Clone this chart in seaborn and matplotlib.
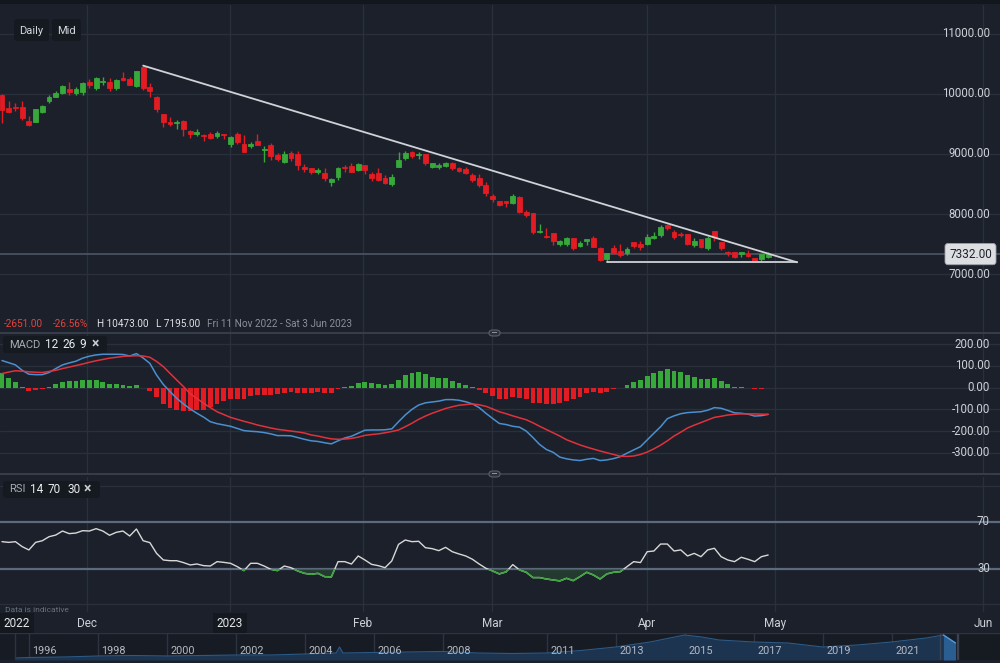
import numpy as np
import matplotlib
matplotlib.use("Agg")
import matplotlib.pyplot as plt
from matplotlib.patches import Rectangle, FancyBboxPatch
import seaborn as sns

# ---- daily candles (Nov 2022 - end Apr 2023) ----
opens = [9983, 9772, 9788, 9778, 9550, 9538, 9695, 9889, 9955, 10022,
         10078, 10022, 10039, 10195, 10105, 10195, 10205, 10094, 10272, 10245,
         10139, 10455, 10111, 9955, 9667, 9538, 9522, 9555, 9389, 9328,
         9317, 9333, 9295, 9339, 9161, 9328, 9161, 9139, 9222, 9061,
         9150, 8983, 8872, 9022, 8995, 8789, 8761, 8705, 8689, 8528,
         8622, 8789, 8800, 8733, 8817, 8667, 8678, 8605, 8500, 8789,
         8928, 9033, 8978, 9000, 8778, 8778, 8806, 8845, 8767, 8750,
         8650, 8605, 8483, 8300, 8217, 8211, 8189, 8289, 8033, 8011,
         7705, 7639, 7678, 7495, 7495, 7605, 7472, 7555, 7595, 7428,
         7245, 7428, 7389, 7345, 7528, 7495, 7495, 7605, 7650, 7817,
         7705, 7661, 7661, 7483, 7578, 7428, 7717, 7528, 7361, 7361,
         7328, 7328, 7272, 7245, 7289]
highs = [10000, 9883, 9855, 9883, 9633, 9750, 9810, 9983, 10050, 10150,
         10195, 10117, 10205, 10250, 10283, 10289, 10272, 10250, 10372, 10283,
         10383, 10473, 10178, 9970, 9667, 9622, 9567, 9567, 9400, 9417,
         9339, 9372, 9383, 9339, 9305, 9372, 9322, 9195, 9328, 9133,
         9183, 9017, 9050, 9050, 9050, 8828, 8761, 8767, 8767, 8605,
         8789, 8817, 8850, 8850, 8817, 8705, 8761, 8650, 8661, 9028,
         9050, 9050, 9039, 9000, 8856, 8856, 8867, 8867, 8778, 8789,
         8683, 8661, 8539, 8333, 8217, 8211, 8333, 8300, 8067, 8011,
         7828, 7772, 7678, 7567, 7622, 7605, 7545, 7578, 7633, 7445,
         7355, 7483, 7500, 7450, 7539, 7545, 7661, 7700, 7817, 7833,
         7733, 7705, 7661, 7600, 7578, 7628, 7717, 7528, 7389, 7372,
         7372, 7400, 7272, 7333, 7361]
lows = [9510, 9683, 9717, 9567, 9467, 9530, 9690, 9855, 9950, 10000,
        9989, 9983, 9983, 10094, 10067, 10150, 10050, 10067, 10217, 10150,
        10117, 10067, 9955, 9705, 9455, 9472, 9417, 9300, 9262, 9300,
        9217, 9245, 9272, 9245, 9111, 9161, 9039, 9095, 9150, 8861,
        8900, 8883, 8855, 8883, 8733, 8705, 8672, 8672, 8555, 8472,
        8572, 8700, 8694, 8711, 8667, 8550, 8555, 8505, 8472, 8778,
        8900, 8939, 8917, 8817, 8767, 8750, 8789, 8733, 8700, 8661,
        8539, 8450, 8300, 8200, 8133, 8122, 8172, 8022, 7950, 7667,
        7689, 7595, 7483, 7467, 7467, 7400, 7455, 7483, 7445, 7210,
        7195, 7333, 7283, 7317, 7428, 7400, 7483, 7583, 7622, 7733,
        7583, 7622, 7483, 7445, 7433, 7400, 7555, 7400, 7305, 7261,
        7283, 7289, 7200, 7217, 7261]
closes = [9733, 9705, 9762, 9605, 9483, 9750, 9800, 9955, 10017, 10128,
          10039, 10089, 10189, 10150, 10261, 10217, 10105, 10233, 10239, 10150,
          10383, 10105, 10055, 9750, 9538, 9500, 9530, 9411, 9333, 9372,
          9295, 9262, 9350, 9322, 9289, 9195, 9039, 9161, 9150, 9078,
          8972, 8911, 8995, 8928, 8817, 8744, 8694, 8733, 8595, 8583,
          8772, 8772, 8705, 8833, 8733, 8605, 8567, 8522, 8611, 8900,
          9011, 8967, 8995, 8845, 8845, 8817, 8856, 8767, 8717, 8683,
          8572, 8483, 8355, 8250, 8150, 8189, 8305, 8039, 7978, 7695,
          7722, 7622, 7555, 7550, 7595, 7439, 7511, 7578, 7445, 7233,
          7345, 7355, 7317, 7411, 7467, 7445, 7622, 7639, 7778, 7761,
          7611, 7645, 7495, 7550, 7455, 7595, 7622, 7428, 7345, 7289,
          7361, 7305, 7222, 7328, 7332]

# ---- MACD 12 26 9 ----
macd = [125, 115, 105, 80, 62, 60, 60, 70, 88, 105,
        114, 122, 136, 145, 151, 154, 154, 154, 153, 146,
        157, 137, 112, 58, 15, -18, -49, -75, -98, -118,
        -136, -157, -166, -172, -178, -188, -198, -201, -203, -207,
        -213, -221, -221, -222, -230, -238, -245, -248, -254, -259,
        -245, -232, -224, -210, -196, -195, -195, -194, -190, -157,
        -126, -100, -80, -70, -66, -62, -55, -55, -58, -65,
        -75, -92, -118, -142, -165, -170, -178, -182, -200, -230,
        -262, -285, -298, -320, -328, -333, -336, -330, -326, -336,
        -333, -327, -318, -302, -287, -272, -241, -210, -180, -143,
        -130, -120, -115, -113, -111, -104, -92, -95, -105, -116,
        -118, -122, -131, -129, -123]
signal = [65, 72, 78, 76, 73, 71, 70, 75, 80, 88,
          95, 102, 109, 117, 124, 130, 136, 140, 144, 146,
          147, 146, 140, 121, 97, 66, 35, 5, -28, -50,
          -72, -92, -111, -124, -137, -146, -155, -163, -172, -179,
          -186, -192, -196, -200, -204, -209, -218, -223, -230, -236,
          -238, -237, -234, -228, -220, -216, -213, -208, -202, -195,
          -180, -164, -146, -131, -118, -107, -96, -88, -81, -78,
          -75, -79, -86, -98, -111, -120, -130, -139, -148, -162,
          -178, -193, -208, -223, -240, -252, -264, -274, -283, -292,
          -300, -308, -316, -317, -315, -308, -297, -282, -265, -245,
          -223, -205, -186, -173, -161, -149, -137, -132, -126, -123,
          -121, -121, -121, -122, -123]
hist = [66, 43, 28, 5, -15, -11, -8, 3, 15, 28,
        31, 31, 34, 34, 35, 28, 17, 17, 12, 9,
        12, -3, -15, -45, -75, -92, -103, -108, -106, -103,
        -103, -91, -75, -60, -52, -52, -54, -37, -34, -34,
        -34, -31, -26, -22, -23, -23, -23, -22, -23, -23,
        -8, 5, 9, 20, 28, 20, 15, 12, 15, 35,
        58, 66, 71, 61, 51, 43, 43, 32, 23, 12,
        3, -11, -26, -38, -54, -54, -41, -49, -52, -69,
        -72, -75, -77, -69, -60, -52, -41, -26, -22, -26,
        -18, -8, -3, 12, 28, 35, 54, 66, 78, 86,
        78, 74, 58, 51, 40, 40, 43, 31, 15, 3,
        2, -2, -8, -5, -3]

# ---- RSI 14 ----
rsi = [53.1, 52.5, 53.1, 48.9, 46.1, 52.5, 53.9, 57.3, 58.7, 62.1,
       59.9, 60.4, 62.4, 62.1, 64.1, 62.1, 58.5, 61.0, 62.1, 57.9,
       63.8, 53.9, 52.3, 43.2, 37.6, 37.0, 37.0, 35.4, 33.4, 34.2,
       32.8, 32.5, 36.2, 35.6, 34.8, 32.0, 28.6, 34.8, 34.8, 32.5,
       29.7, 28.6, 32.5, 31.1, 28.3, 26.3, 25.5, 26.3, 23.5, 23.2,
       36.2, 36.2, 34.2, 41.0, 37.6, 33.9, 32.8, 31.1, 36.8, 50.8,
       54.5, 53.1, 53.4, 48.0, 47.2, 45.5, 48.3, 44.6, 42.7, 41.0,
       38.2, 34.2, 30.6, 28.3, 25.8, 27.5, 33.7, 29.2, 27.2, 22.7,
       22.7, 21.5, 20.7, 19.9, 22.1, 20.1, 23.5, 27.2, 24.9, 21.5,
       25.8, 27.2, 27.7, 32.0, 36.2, 35.4, 44.6, 45.2, 51.1, 51.1,
       45.2, 46.1, 41.0, 43.2, 40.4, 46.1, 47.5, 40.4, 37.6, 36.2,
       39.9, 38.2, 36.2, 40.4, 41.8]

# month labels (positions in candle units)
month_labels = ["Dec", "2023", "Feb", "Mar", "Apr", "May", "Jun"]
month_pos = [12.65, 33.9, 53.7, 72.9, 96.0, 115.0, 146.0]

price_ticks = [11000, 10000, 9000, 8000, 7000]
macd_ticks = [200, 100, 0, -100, -200, -300]

# long history navigator
nav_years = [1995.6, 1996, 1997, 1998, 1999, 2000, 2001, 2002, 2003, 2004,
             2004.9, 2005, 2005.1, 2006, 2007, 2008, 2009, 2010, 2011, 2012,
             2013, 2014, 2015, 2015.5, 2016, 2017, 2018, 2019, 2020, 2021,
             2022, 2022.5, 2022.85]
nav_level = [2, 2.5, 3, 4, 4.5, 4, 4.5, 5, 5, 6,
             7, 13, 7, 7.5, 8, 8.5, 7, 6.5, 7, 9.5,
             13, 18, 25, 23, 20, 18, 17, 13, 15, 18,
             22, 25, 17]
nav_label_years = [1996, 1998, 2000, 2002, 2004, 2006, 2008, 2011, 2013, 2015, 2017, 2019, 2021]

bg = "#1b202a"
grid_c = "#2a303b"
txt = "#cdd0d6"
up = "#37a83a"
down = "#e31b22"

sns.set_theme(style="dark", rc={"axes.facecolor": bg, "figure.facecolor": bg,
                                "axes.edgecolor": bg, "text.color": txt})
plt.rcParams["font.family"] = ["Roboto", "DejaVu Sans"]

W, H = 1000, 663
fig = plt.figure(figsize=(10, 6.63), dpi=100)


def box(top, bottom):
    return [0, 1 - bottom / H, 1, (bottom - top) / H]


def ftext(x, y, s, **kw):
    fig.text(x / W, 1 - y / H, s, **kw)


def frect(x0, y0, x1, y1, fc, ec="none", rounded=False, lw=0.8):
    if rounded:
        p = FancyBboxPatch((x0 / W, 1 - y1 / H), (x1 - x0) / W, (y1 - y0) / H,
                           boxstyle="round,pad=0,rounding_size=0.004",
                           transform=fig.transFigure, fc=fc, ec=ec, lw=lw)
    else:
        p = Rectangle((x0 / W, 1 - y1 / H), (x1 - x0) / W, (y1 - y0) / H,
                      transform=fig.transFigure, fc=fc, ec=ec, lw=lw)
    fig.patches.append(p)


ax_p = fig.add_axes(box(5, 333))
ax_m = fig.add_axes(box(333, 474))
ax_r = fig.add_axes(box(477, 612))
ax_d = fig.add_axes(box(612, 633))
ax_n = fig.add_axes(box(633, 660))

xl = (-0.298, 148.5)
idx = np.arange(len(closes))
for ax in [ax_p, ax_m, ax_r, ax_d, ax_n]:
    ax.set_facecolor(bg)
    ax.set_xticks([])
    ax.set_yticks([])
    for s in ax.spines.values():
        s.set_visible(False)
for ax in [ax_p, ax_m, ax_r, ax_d]:
    ax.set_xlim(*xl)
for ax in [ax_p, ax_m, ax_r]:
    for mp in month_pos:
        ax.axvline(mp, color=grid_c, lw=1, zorder=0)

# ---- price panel ----
ax_p.set_ylim(6017, 11483)
for t in price_ticks + [6000]:
    ax_p.axhline(t, color=grid_c, lw=1, zorder=0)
for t in price_ticks:
    ax_p.text(0.99, t, f"{t:.2f}", transform=ax_p.get_yaxis_transform(),
              ha="right", va="center", fontsize=8.3, color=txt)

o = np.array(opens); c = np.array(closes)
cols = np.where(c >= o, up, down)
ax_p.vlines(idx, lows, highs, colors=cols, lw=1, zorder=3)
ax_p.bar(idx, c - o, bottom=o, width=0.72, color=cols, edgecolor=cols, lw=0.6, zorder=4)

last = closes[-1]
ax_p.axhline(last, color="#4b5260", lw=1.3, zorder=1)
ax_p.text(0.9705, last, f"{last:.2f}", transform=ax_p.get_yaxis_transform(),
          ha="center", va="center", fontsize=8.5, color="#1e222a", zorder=6,
          bbox=dict(boxstyle="round,pad=0.35,rounding_size=0.25", fc="#dcdee2", ec="#9a9ea6", lw=0.6))

# trend lines
i_hi = int(np.argmax(highs))
i_lo = int(np.argmin(lows))
apex = 118.3
ax_p.plot([i_hi, apex], [max(highs), min(lows)], color="#cfd2d6", lw=1.3, zorder=5)
ax_p.plot([i_lo, apex], [min(lows), min(lows)], color="#cfd2d6", lw=1.3, zorder=5)

# info line
chg = closes[-1] - opens[0]
pct = chg / opens[0] * 100
ftext(4, 324, f"{chg:.2f}", fontsize=7.2, color="#e5443c", va="center")
ftext(53, 324, f"{pct:.2f}%", fontsize=7.2, color="#e5443c", va="center")
ftext(97, 324, f"H {max(highs):.2f}", fontsize=7.2, color="#dfe1e5", va="center")
ftext(156, 324, f"L {min(lows):.2f}", fontsize=7.2, color="#dfe1e5", va="center")
ftext(207, 324, "Fri 11 Nov 2022 - Sat 3 Jun 2023", fontsize=7.2, color="#8a8f99", va="center")

# ---- MACD panel ----
ax_m.set_ylim(-398, 252)
for t in macd_ticks:
    ax_m.axhline(t, color=grid_c, lw=1, zorder=0)
    ax_m.text(0.99, t, f"{t:.2f}", transform=ax_m.get_yaxis_transform(),
              ha="right", va="center", fontsize=8.3, color=txt)
hcols = [up if v >= 0 else down for v in hist]
ax_m.bar(idx, hist, width=0.72, color=hcols, edgecolor="none", lw=0, zorder=2)
sns.lineplot(x=idx, y=macd, ax=ax_m, color="#4b8fcf", lw=1.1, zorder=3)
sns.lineplot(x=idx, y=signal, ax=ax_m, color="#e0323c", lw=1.1, zorder=3)
ax_m.set_xlim(*xl)
ax_m.set_xticks([]); ax_m.set_yticks([])
ax_m.set_xlabel(""); ax_m.set_ylabel("")

# ---- RSI panel ----
ax_r.set_ylim(-6.4, 107.8)
for t in [0, 100]:
    ax_r.axhline(t, color=grid_c, lw=1, zorder=0)
for t in [70, 30]:
    ax_r.axhline(t, color="#5b6b7d", lw=1.6, zorder=1)
    ax_r.text(0.99, t, str(t), transform=ax_r.get_yaxis_transform(),
              ha="right", va="center", fontsize=8.3, color=txt)
rsi_a = np.array(rsi)
ax_r.fill_between(idx, rsi_a, 30, where=rsi_a < 30, interpolate=True,
                  color="#2b5234", alpha=0.55, lw=0, zorder=2)
sns.lineplot(x=idx, y=rsi, ax=ax_r, color="#d8d8d8", lw=1.0, zorder=3)
low_line = sns.lineplot(x=idx, y=rsi, ax=ax_r, color="#3aa53a", lw=1.1, zorder=4).lines[-1]
clip = Rectangle((xl[0], -10), xl[1] - xl[0], 40, transform=ax_r.transData)
low_line.set_clip_path(clip)
ax_r.set_xlim(*xl)
ax_r.set_xticks([]); ax_r.set_yticks([])
ax_r.set_xlabel(""); ax_r.set_ylabel("")

# ---- date row ----
ax_d.set_ylim(0, 1)
for lab, mp in zip(month_labels, month_pos):
    if lab == "2023":
        ax_d.text(mp, 0.45, lab, ha="center", va="center", fontsize=8.5, color="#e6e8eb",
                  bbox=dict(boxstyle="square,pad=0.35", fc="#14181f", ec="none"))
    else:
        ax_d.text(mp, 0.45, lab, ha="center", va="center", fontsize=8.5, color=txt)
ax_d.text(2.2, 0.45, "2022", ha="center", va="center", fontsize=8.5, color="#e6e8eb",
          bbox=dict(boxstyle="square,pad=0.35", fc="#14181f", ec="none"))

# ---- navigator ----
ax_n.set_facecolor("#171b24")
ax_n.set_xlim(1995.16, 2024.14)
ax_n.set_ylim(0, 27)
ny = np.array(nav_years); nl = np.array(nav_level)
ax_n.fill_between(ny, nl, 0, color="#1d3450", lw=0, zorder=1)
ax_n.plot(ny, nl, color="#2c5a86", lw=0.8, zorder=2)
sel = ny >= 2022.5
ax_n.fill_between(ny[sel], nl[sel], 0, color="#2a5d90", lw=0, zorder=2)
ax_n.plot(ny[sel], nl[sel], color="#4f9be0", lw=1, zorder=3)
for yr in nav_label_years:
    ax_n.axvline(yr, color="#2d333f", lw=1, zorder=0)
    ax_n.text(yr + 0.1, 8.5, str(yr), ha="left", va="center", fontsize=7.8, color="#b4b9c2", zorder=4)
ax_n.axvline(1995.6, color="#2d333f", lw=1)
ax_n.axvline(2022.4, color="#3a4454", lw=1)
ax_n.axvline(2022.9, color="#3a4454", lw=1)
ax_n.axvspan(2022.93, 2024.14, color="#161a21", zorder=0)
ax_n.axvline(2022.93, color="#3a4050", lw=1)
ax_n.axhline(27, color="#2d333f", lw=1)

# ---- chrome ----
frect(0, 0, 1000, 4, "#12161d")
frect(14, 19, 49, 41, "#151920", rounded=True)
frect(52, 19, 81, 41, "#151920", rounded=True)
ftext(31.5, 31, "Daily", fontsize=8, color="#d4d7dc", ha="center", va="center")
ftext(66.5, 31, "Mid", fontsize=8, color="#d4d7dc", ha="center", va="center")

for ysep in [333, 474]:
    frect(0, ysep - 0.7, 1000, ysep + 0.7, "#363c48")
    frect(489, ysep - 3, 500, ysep + 3, "#2c313b", ec="#5a606b", rounded=True)
    frect(492, ysep - 1, 497, ysep - 0.5, "#8a9099")
    frect(492, ysep + 0.5, 497, ysep + 1, "#8a9099")

frect(3, 336, 107, 353, "#151920", rounded=True)
ftext(9, 344.5, "MACD", fontsize=8, color="#a5aab3", va="center")
ftext(45, 344.5, "12", fontsize=8.5, color="#e8eaed", va="center")
ftext(62, 344.5, "26", fontsize=8.5, color="#e8eaed", va="center")
ftext(79, 344.5, "9", fontsize=8.5, color="#e8eaed", va="center")
ftext(92, 344.5, "\u00d7", fontsize=10, color="#c9ccd2", va="center", fontweight="bold")

frect(3, 481, 100, 498, "#151920", rounded=True)
ftext(9, 489.5, "RSI", fontsize=8, color="#a5aab3", va="center")
ftext(30, 489.5, "14", fontsize=8.5, color="#e8eaed", va="center")
ftext(48, 489.5, "70", fontsize=8.5, color="#e8eaed", va="center")
ftext(67, 489.5, "30", fontsize=8.5, color="#e8eaed", va="center")
ftext(84, 489.5, "\u00d7", fontsize=10, color="#c9ccd2", va="center", fontweight="bold")

ftext(5, 610, "Data is indicative", fontsize=6, color="#6a707b", va="center")

fig.savefig("out.png", dpi=100, facecolor=bg)
